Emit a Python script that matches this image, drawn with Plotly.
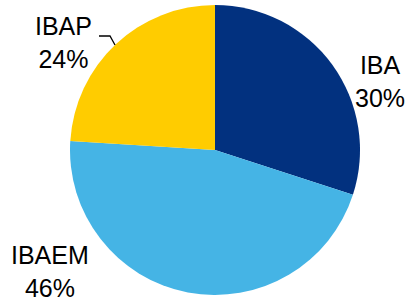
import plotly.graph_objects as go

categories = ["IBA", "IBAEM", "IBAP"]
values = [30, 46, 24]
colors = ["#02317F", "#45B4E5", "#FFCC00"]

W, H = 409, 300

def px(x):
    return x / W

def py(y):
    return 1 - y / H

cx, cy, r = 215, 150, 145

fig = go.Figure(go.Pie(
    labels=categories,
    values=values,
    sort=False,
    direction="clockwise",
    rotation=0,
    marker=dict(colors=colors, line=dict(width=0)),
    textinfo="none",
    hoverinfo="label+percent",
    domain=dict(x=[px(cx - r), px(cx + r)], y=[py(cy + r), py(cy - r)]),
    showlegend=False,
))

label_pos = {"IBA": (380, 81), "IBAEM": (49.5, 271), "IBAP": (63.5, 43)}
total = sum(values)
for cat, v in zip(categories, values):
    x, y = label_pos[cat]
    fig.add_annotation(
        x=px(x), y=py(y), xref="paper", yref="paper",
        text=f"{cat}<br>{round(100 * v / total)}%",
        showarrow=False, xanchor="center", yanchor="middle",
        font=dict(family="Liberation Sans, Arial", size=25, color="#000000"),
    )

fig.add_shape(
    type="path", xref="paper", yref="paper",
    path=f"M {px(99)} {py(36)} L {px(110)} {py(36)} L {px(115)} {py(45)}",
    line=dict(color="#000000", width=1.3),
)

fig.update_layout(
    width=W, height=H,
    margin=dict(l=0, r=0, t=0, b=0),
    paper_bgcolor="white",
    plot_bgcolor="white",
)

fig.write_html(
    "out.html",
    config={"displayModeBar": False},
    post_script="document.body.style.margin='0';document.body.style.overflow='hidden';",
)
